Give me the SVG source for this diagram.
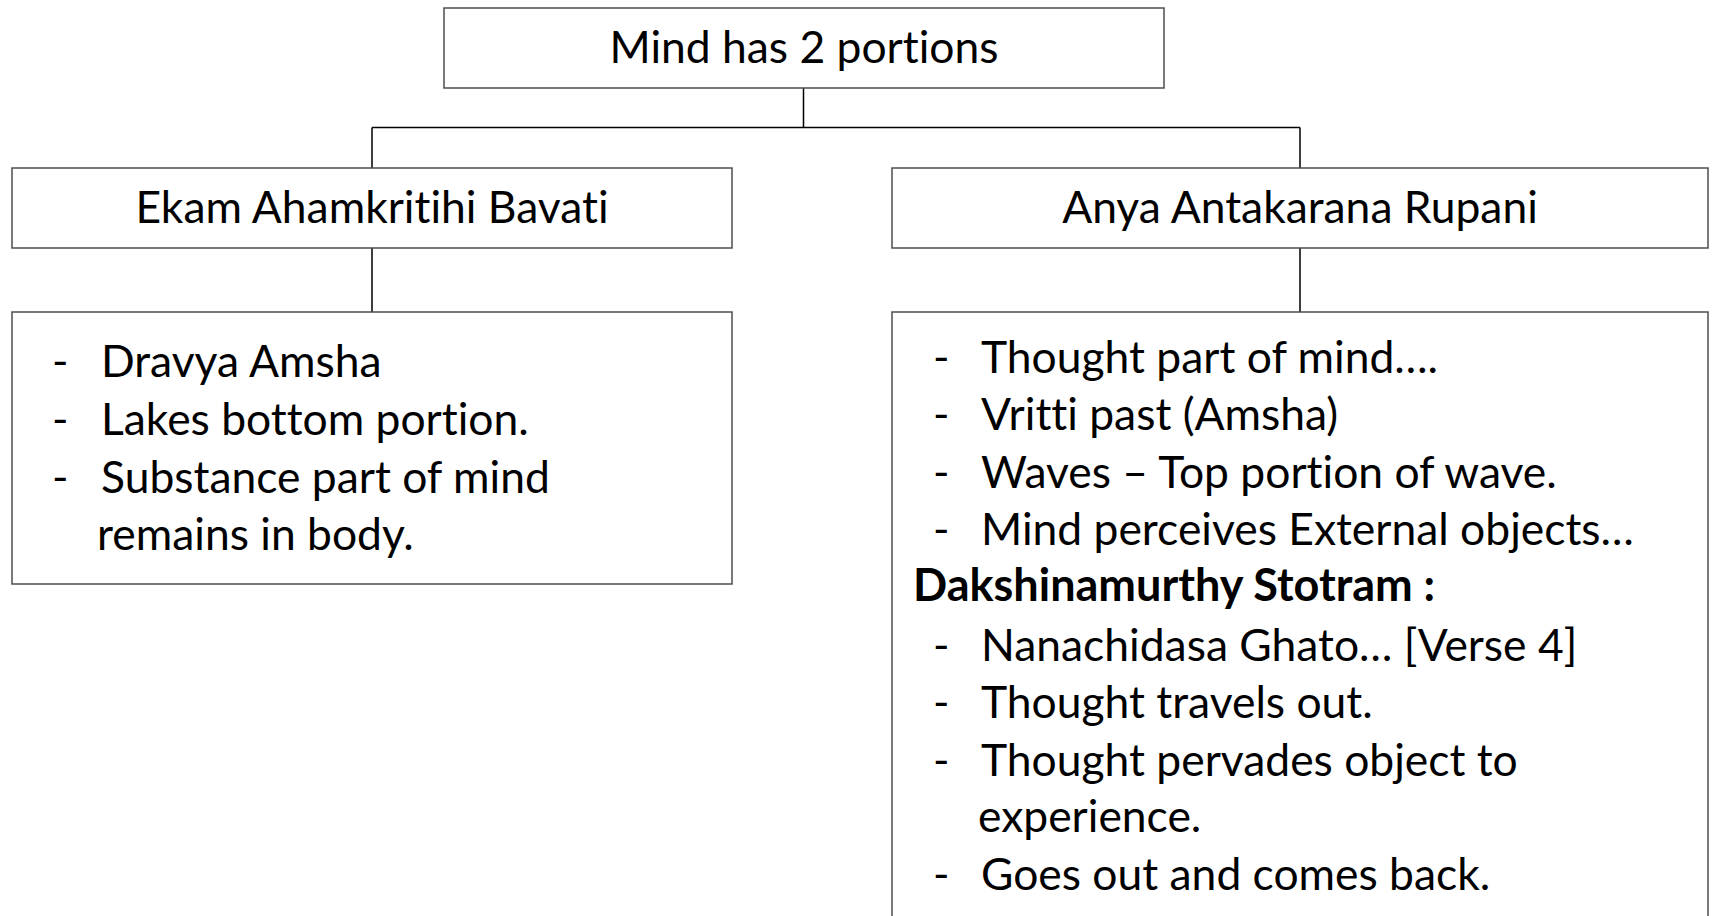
<svg xmlns="http://www.w3.org/2000/svg" width="1712" height="916" viewBox="0 0 1712 916">
<style>
.box{fill:#fff;stroke:#4d4d4d;stroke-width:1.5}
.con{stroke:#000;stroke-width:1.5;fill:none}
text{font-family:Lato,"Liberation Sans",sans-serif;font-size:44.4px;fill:#000;font-variant-ligatures:none}
.c{text-anchor:middle}
.b{font-weight:bold;font-size:45px}
</style>
<rect width="1712" height="916" fill="#fff"/>
<g id="connectors">
<path class="con" d="M803.5 88V127.5M372 127.5H1300M372 127.5V168M1300 127.5V168M372 248V312M1300 248V312"/>
</g>
<g id="root">
<rect class="box" x="444" y="8" width="720" height="80"/>
<text class="c" x="804" y="63">Mind has 2 portions</text>
</g>
<g id="left">
<rect class="box" x="12" y="168" width="720" height="80"/>
<text class="c" x="372" y="223">Ekam Ahamkritihi Bavati</text>
</g>
<g id="right">
<rect class="box" x="892" y="168" width="816" height="80"/>
<text class="c" x="1300" y="223">Anya Antakarana Rupani</text>
</g>
<g id="left-content">
<rect class="box" x="12" y="312" width="720" height="272"/>
<text x="52" y="377">-</text><text x="101" y="377">Dravya Amsha</text>
<text x="52" y="435">-</text><text x="101" y="435">Lakes bottom portion.</text>
<text x="52" y="493">-</text><text x="101" y="493">Substance part of mind</text>
<text x="97" y="550">remains in body.</text>
</g>
<g id="right-content">
<rect class="box" x="892" y="312" width="816" height="640"/>
<text x="933" y="373">-</text><text x="981" y="373">Thought part of mind….</text>
<text x="933" y="430">-</text><text x="981" y="430">Vritti past (Amsha)</text>
<text x="933" y="488">-</text><text x="981" y="488">Waves – Top portion of wave.</text>
<text x="933" y="545">-</text><text x="981" y="545">Mind perceives External objects…</text>
<text class="b" x="913" y="601">Dakshinamurthy Stotram :</text>
<text x="933" y="661">-</text><text x="981" y="661">Nanachidasa Ghato… [Verse 4]</text>
<text x="933" y="718">-</text><text x="981" y="718">Thought travels out.</text>
<text x="933" y="776">-</text><text x="981" y="776">Thought pervades object to</text>
<text x="978" y="832">experience.</text>
<text x="933" y="890">-</text><text x="981" y="890">Goes out and comes back.</text>
</g>
</svg>
